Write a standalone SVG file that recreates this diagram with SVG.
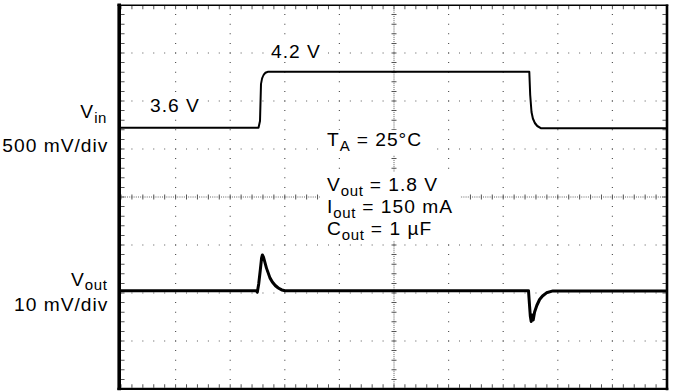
<svg xmlns="http://www.w3.org/2000/svg" width="676" height="392" viewBox="0 0 676 392">
<style>
.lbl{font-family:"Liberation Sans",Arial,sans-serif;font-size:19.2px;letter-spacing:1px;fill:#000}
.sub{font-size:15px;letter-spacing:0.6px}
.dv{stroke:#555;stroke-width:1.2;stroke-dasharray:1 8.6;stroke-dashoffset:0.5;fill:none}
.dh{stroke:#555;stroke-width:1.2;stroke-dasharray:1 9.92;stroke-dashoffset:0.5;fill:none}
.tv{stroke:#555;stroke-width:3.5;stroke-dasharray:1 8.6;stroke-dashoffset:0.5;fill:none}
.th{stroke:#555;stroke-width:3.5;stroke-dasharray:1 9.92;stroke-dashoffset:0.5;fill:none}
.ko{fill:#fff}
.frame{stroke:#000;fill:none}
.trace{fill:none;stroke:#000;stroke-linejoin:round;stroke-linecap:round}
</style>
<rect width="676" height="392" fill="#fff"/>
<g id="grid">
<line class="dv" x1="175.6" y1="5" x2="175.6" y2="389"/>
<line class="dv" x1="230.2" y1="5" x2="230.2" y2="389"/>
<line class="dv" x1="284.8" y1="5" x2="284.8" y2="389"/>
<line class="dv" x1="339.4" y1="5" x2="339.4" y2="389"/>
<line class="dv" x1="448.6" y1="5" x2="448.6" y2="389"/>
<line class="dv" x1="503.2" y1="5" x2="503.2" y2="389"/>
<line class="dv" x1="557.8" y1="5" x2="557.8" y2="389"/>
<line class="dv" x1="612.4" y1="5" x2="612.4" y2="389"/>
<line class="dh" x1="121" y1="53" x2="667" y2="53"/>
<line class="dh" x1="121" y1="101" x2="667" y2="101"/>
<line class="dh" x1="121" y1="149" x2="667" y2="149"/>
<line class="dh" x1="121" y1="245" x2="667" y2="245"/>
<line class="dh" x1="121" y1="293" x2="667" y2="293"/>
<line class="dh" x1="121" y1="341" x2="667" y2="341"/>
<line x1="121" y1="197" x2="667" y2="197" stroke="#555" stroke-width="1" stroke-dasharray="0.9 1.284" stroke-dashoffset="0.45"/>
<line x1="121" y1="197" x2="667" y2="197" stroke="#555" stroke-width="5" stroke-dasharray="1 9.92" stroke-dashoffset="0.5"/>
<line x1="394" y1="5" x2="394" y2="389" stroke="#555" stroke-width="1" stroke-dasharray="0.9 1.02" stroke-dashoffset="0.45"/>
<line x1="394" y1="5" x2="394" y2="389" stroke="#555" stroke-width="5" stroke-dasharray="1 8.6" stroke-dashoffset="0.5"/>
<line class="tv" x1="122.8" y1="5" x2="122.8" y2="389"/>
<line class="tv" x1="664.2" y1="5" x2="664.2" y2="389"/>
<line class="th" x1="121" y1="7.6" x2="667" y2="7.6"/>
<line class="th" x1="121" y1="386" x2="667" y2="386"/>
</g>
<g id="knockouts">
<rect class="ko" x="268" y="41" width="57" height="20"/>
<rect class="ko" x="147" y="96" width="57" height="20"/>
<rect class="ko" x="322" y="130" width="110" height="25"/>
<rect class="ko" x="320" y="172" width="140" height="69"/>
</g>
<g id="frame">
<line class="frame" x1="119.2" y1="3.5" x2="119.2" y2="390.2" stroke-width="3.6"/>
<line class="frame" x1="117.4" y1="5.3" x2="668.3" y2="5.3" stroke-width="1.6"/>
<line class="frame" x1="667" y1="4.5" x2="667" y2="390.2" stroke-width="2.6"/>
<line class="frame" x1="117.4" y1="388.9" x2="668.3" y2="388.9" stroke-width="2.4"/>
</g>
<g id="traces">
<path id="trace-vin" class="trace" stroke-width="2" d="M121,127.8 H258.5 L260,121 L261,84 Q262.3,72.5 268,71.8 H529.3 L530.2,95 L531.5,112 Q533.5,126 541,128.3 H666"/>
<path id="trace-vout" class="trace" stroke-width="3" d="M121,290.7 H256.3 L257.3,292.3 L258.7,284 L260.3,270 L261.6,258 L262.4,255 L263.6,257.5 Q266,268 270,278 Q274.5,287 282,290 L285,290.7 H528.5 L529.5,305 L530.3,316 L531.2,321.5 L532.2,315 L533.2,320 L534.6,312 L536.8,305.5 L539.6,299.5 L542.5,296 L546.5,292.8 L553,290.9 H666"/>
</g>
<g id="label-vin">
<text class="lbl" x="107" y="118.3" text-anchor="end">V<tspan class="sub" dy="4.5">in</tspan></text>
<text class="lbl" x="108.3" y="151.5" text-anchor="end">500 mV/div</text>
</g>
<g id="label-vout">
<text class="lbl" x="107.5" y="285.5" text-anchor="end">V<tspan class="sub" dy="4.5">out</tspan></text>
<text class="lbl" x="108.3" y="311" text-anchor="end">10 mV/div</text>
</g>
<g id="label-levels">
<text class="lbl" x="271" y="57.7">4.2 V</text>
<text class="lbl" x="150" y="112.3">3.6 V</text>
</g>
<g id="label-conditions">
<text class="lbl" x="327" y="146">T<tspan class="sub" dy="5">A</tspan><tspan dy="-5"> = 25°C</tspan></text>
<text class="lbl" x="327" y="191">V<tspan class="sub" dy="5">out</tspan><tspan dy="-5"> = 1.8 V</tspan></text>
<text class="lbl" x="327" y="213">I<tspan class="sub" dy="5">out</tspan><tspan dy="-5"> = 150 mA</tspan></text>
<text class="lbl" x="327" y="235">C<tspan class="sub" dy="5">out</tspan><tspan dy="-5"> = 1 µF</tspan></text>
</g>
</svg>
